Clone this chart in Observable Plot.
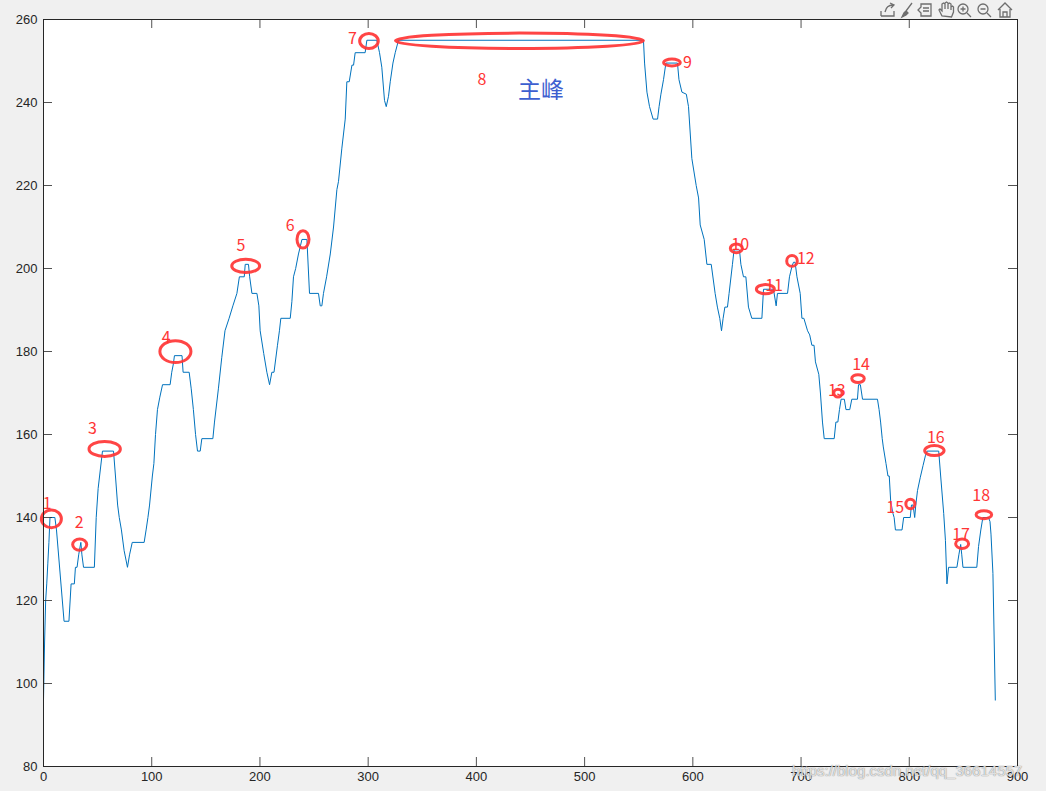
<!DOCTYPE html>
<html><head><meta charset="utf-8">
<script src="https://cdn.jsdelivr.net/npm/d3@7"></script>
<script src="https://cdn.jsdelivr.net/npm/@observablehq/plot@0.6"></script>
<style>
html,body{margin:0;padding:0;background:#f0f0f0;width:1046px;height:791px;overflow:hidden;}
#wrap{position:relative;width:1046px;height:791px;}
#chart svg{display:block;}
#toolbar{position:absolute;left:0;top:0;}
#wm{position:absolute;left:792px;top:762px;font-family:"Liberation Sans",Arial,sans-serif;font-size:15px;color:rgba(255,255,255,0.75);text-shadow:0 0 1px rgba(90,90,90,0.55),0 0 1px rgba(90,90,90,0.55);white-space:nowrap;pointer-events:none;}
</style></head>
<body><div id="wrap"><div id="chart"></div>
<svg id="toolbar" width="1046" height="20" fill="none" stroke="#6e6e6e" stroke-width="1.3">
  <path d="M881 16 h13 v-5 M881 16 v-5 M885 12 c1-5 4-7 8-7 M890 3 l4 2 l-3 3" />
  <path d="M912 3 l-6 8 M906 11 l-2 2 l-2 4 l4-2 l2-2 z" fill="#6e6e6e"/>
  <path d="M921 4 h10 v12 h-10 v-3 l-3-3 l3-3 z M923 8 h6 M923 11 h6"/>
  <path d="M942 16 l-3-6 l1-1 l2 2 v-7 l1.5-1 l1.5 1 v5 v-6 l1.5-1 l1.5 1 v6 v-5 l1.5-1 l1.5 1 v6 v-3 l1.5-1 l1 1 v5 l-2 5 z"/>
  <circle cx="963" cy="9" r="5"/><path d="M967 13 l4 4 M960.5 9 h5 M963 6.5 v5"/>
  <circle cx="983" cy="9" r="5"/><path d="M987 13 l4 4 M980.5 9 h5"/>
  <path d="M998 10 l7-7 l7 7 M1000 9 v8 h10 v-8 M1003 17 v-5 h4 v5"/>
</svg>
<div id="wm">https://blog.csdn.net/qq_36614557</div>
</div>
<script>
// signal vertices
const xs = [0,1,2,3,4,5,6,10.5,12,19,23.5,25.5,28.5,29.5,31,32.5,34.5,35.5,37,47,
48.7,50.5,54.5,64.7,66.5,68.5,70,72,74.5,77.6,79.5,82,93,94.8,96.5,98,100.6,102,103.5,105.3,
107.5,110,117,118.5,120,121,128,129,134.6,136.5,138.5,140.5,142.3,144.8,146.3,156.5,158,161.6,164.7,167.7,
171.5,175,178.7,181,185.5,186.4,189.4,190.5,192.6,197.2,199,200.2,203.5,206.4,208.9,211,213,216.2,218,219.3,
228,229.5,231,233,235.6,237,238.8,243.4,245.8,254.1,255.7,257.2,258.7,261.6,265,268,271.1,272.6,275.7,278.8,
280.3,282.5,285,286.5,288,297.2,298.8,308,310.5,312.6,315.1,316.7,318.8,320.4,322.9,325,328,554.4,555.4,557.6,
560,563.3,567.4,568.8,570.5,572.9,575.1,585.8,587.2,589.9,594,596,599.1,603.1,605.3,606.8,610.5,613,617,620.6,
622.7,624.9,626.5,628,629.6,632,633.5,636.6,638.1,643.1,644.4,646.8,649,651.4,654.5,663.8,665.3,674.5,677,678.2,
687.5,689.3,691.6,693,694.5,696.2,699.2,700.8,702.6,706,708,710,712,713.3,716.4,717.9,719.8,721.4,730.6,732.2,
734,735.5,737,740,741.5,745,746.9,752.1,753.1,754.8,756.8,770.6,772.1,773.5,775,776,778.5,780.3,781.5,782.8,
784.9,786,787.2,793.3,794.8,800.9,802,803.5,805,806,807.6,810.2,812.7,815,816.5,827.2,829,831.8,833.4,834.8,
836.3,844,845.8,847.5,848.5,849.6,862.4,864,866.1,868,873.2,874.6,875.5,877.3,879.5];
const ys = [96,110,120,124,129,134,140,140,137,115,115,124,124,128,128,131,134,131,128,128,
140,147,156,156,150,143,140,137,132,128,131,134,134,137,140,143,150,153,160,166,
169,172,172,175,177,179,179,175,175,171,166,160,156,156,159,159,163,171,178.5,185,
188,191,194,198,198,201,201,198,194,194,191,185,179.5,175,172,175,175,181.5,185,188,
188,192,198,200,203.5,205,207,207,194,194,191,191,194,198,203.5,210,219,221,229,236,
245,245,249,249,252,252,255,255,252,248.5,240.5,239,241.5,245,249.5,252,255,255,249.5,242.5,
239,236,236,239,242,245.5,249.5,249.5,245.5,242.5,242,239,226.5,220,217,210.5,207,201,201,194,
190.7,188,185,188,190.7,190.7,194,201,204.5,204.5,201,198,198,190.7,188,188,195,195,191,194,
194,198,200.5,201.5,201.5,198,194,188,188,185,184,181.5,181.5,177.5,174.5,170,163,159,159,163,
163,166,168.5,168.5,166,166,168.5,168.5,172,172,168.5,168.5,166,163,159,157,153,150,150,144,
141,140,137,137,140,140,143,143,140,143,146.5,149.7,152.5,155,156,156,150,141,134.5,124,
128,128,131,133.5,131,128,128,133,137,140,140,139,136,126.5,96];

const xTicks = [0,100,200,300,400,500,600,700,800,900];
const yTicks = [80,100,120,140,160,180,200,220,240,260];

// annotated peaks: label, ellipse extent in data units, label position
const peakLabels = ["1","2","3","4","5","6","7","8","9","10","11","12","13","14","15","16","17","18"];
const peakX1 = [-1.5,27.4,42.5,108.0,174.4,234.7,292.6,325.7,573.5,635.1,659.2,687.2,730.7,747.3,797.3,814.7,843.3,862.2];
const peakX2 = [17.0,40.4,71.5,136.7,200.2,245.8,309.8,554.8,588.8,646.2,675.8,697.0,738.4,758.9,805.6,832.6,855.3,876.6];
const peakY1 = [137.4,132.0,154.6,177.2,198.9,204.8,252.9,252.9,248.7,203.7,193.8,200.4,168.9,172.4,142.0,154.8,132.4,139.6];
const peakY2 = [141.7,134.7,158.2,182.5,202.1,209.0,256.5,256.6,250.35,205.8,196.0,203.0,170.8,174.3,144.3,157.2,134.7,141.5];
const labelX = [3.4,33.0,45.3,113.4,182.4,228.0,285.5,405.1,595.0,643.7,675.1,704.4,733.0,755.5,787.0,824.5,847.9,866.4];
const labelY = [143.4,138.6,161.3,183.2,205.5,210.2,255.3,245.5,249.5,205.8,195.9,202.3,170.5,176.7,142.2,159.3,135.7,145.3];
const mainPeakText = ["主峰"];
const mainPeakX = [459.6];
const mainPeakY = [242.8];

const signal = xs.map((x, i) => ({x, y: ys[i]}));
const peaks = peakLabels.map((t, i) => ({t, x1: peakX1[i], x2: peakX2[i], y1: peakY1[i], y2: peakY2[i], lx: labelX[i], ly: labelY[i]}));
const mainPeak = mainPeakText.map((t, i) => ({t, x: mainPeakX[i], y: mainPeakY[i]}));

const W = 1046, H = 791, mL = 43, mR = 29, mT = 19, mB = 25;
const fw = W - mL - mR, fh = H - mT - mB;
const axisColor = "#262626";
const tickFont = "Liberation Sans, Arial, Helvetica, sans-serif";
const redColor = "#ff3535";

function ellipseMark(index, scales) {
  const g = d3.create("svg:g").attr("fill", "none").attr("stroke", redColor).attr("stroke-width", 3).attr("stroke-opacity", 0.92);
  for (const p of peaks) {
    const a = scales.x(p.x1), b = scales.x(p.x2), c = scales.y(p.y1), d = scales.y(p.y2);
    g.append("ellipse").attr("cx", (a + b) / 2).attr("cy", (c + d) / 2)
      .attr("rx", Math.abs(b - a) / 2).attr("ry", Math.abs(d - c) / 2);
  }
  return g.node();
}

const chart = Plot.plot({
  width: W, height: H,
  marginLeft: mL, marginRight: mR, marginTop: mT, marginBottom: mB,
  style: {background: "#f0f0f0", overflow: "visible"},
  x: {domain: [0, 900], axis: null},
  y: {domain: [80, 260], axis: null},
  marks: [
    Plot.frame({fill: "white", stroke: "none"}),
    Plot.line(signal, {x: "x", y: "y", stroke: "#0072BD", strokeWidth: 1}),
    ellipseMark,
    Plot.text(peaks, {x: "lx", y: "ly", text: "t", fill: redColor, fontSize: 16, fontFamily: "Noto Sans CJK SC, Noto Sans, sans-serif"}),
    Plot.text(mainPeak, {x: "x", y: "y", text: "t", fill: "#3d5fd0", fontSize: 23, fontFamily: "Noto Sans CJK SC, sans-serif"}),
    // inward ticks on all four sides
    Plot.tickY(yTicks, {y: d => d, stroke: axisColor, strokeWidth: 0.8, insetRight: fw - 9}),
    Plot.tickY(yTicks, {y: d => d, stroke: axisColor, strokeWidth: 0.8, insetLeft: fw - 9}),
    Plot.tickX(xTicks, {x: d => d, stroke: axisColor, strokeWidth: 0.8, insetTop: fh - 9}),
    Plot.tickX(xTicks, {x: d => d, stroke: axisColor, strokeWidth: 0.8, insetBottom: fh - 9}),
    Plot.text(yTicks, {y: d => d, text: d => String(d), frameAnchor: "left", textAnchor: "end", dx: -6, fontSize: 13, fill: axisColor, fontFamily: tickFont}),
    Plot.text(xTicks, {x: d => d, text: d => String(d), frameAnchor: "bottom", dy: 14, fontSize: 13, fill: axisColor, fontFamily: tickFont}),
    Plot.frame({stroke: axisColor, strokeWidth: 1})
  ]
});
document.getElementById("chart").appendChild(chart);
</script>
</body></html>
